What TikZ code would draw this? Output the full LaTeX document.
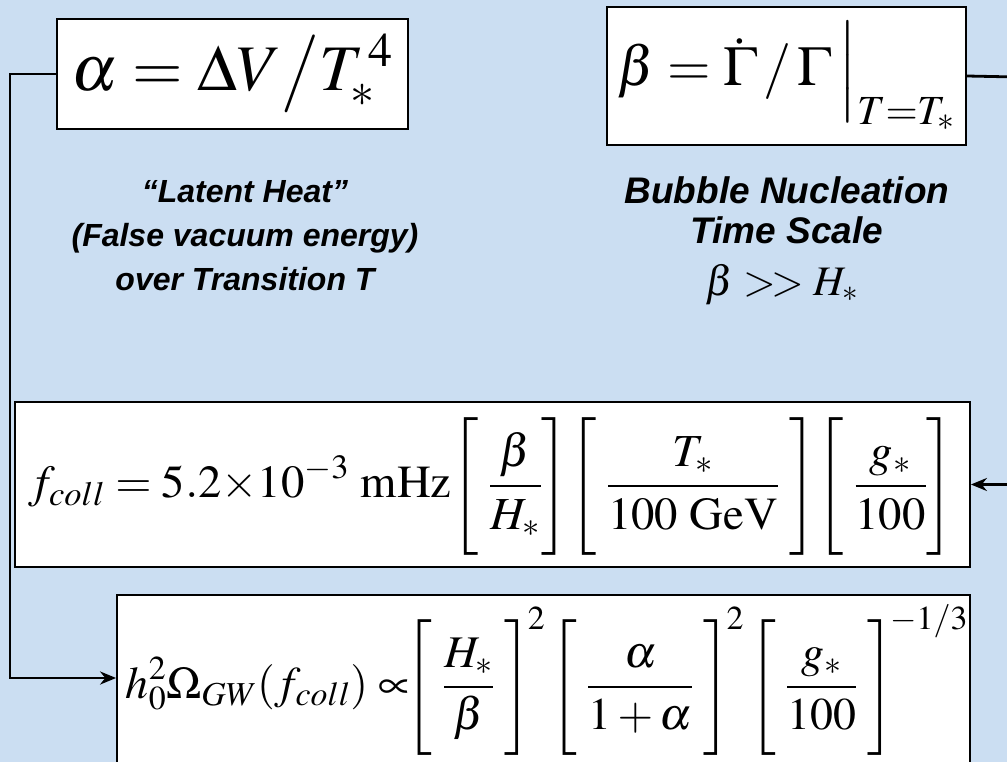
\documentclass[tikz,border=0pt]{standalone}
\usepackage{mathptmx}
\usepackage{graphicx}
\usepackage{fontspec}
\setmainfont{Liberation Serif}
\setsansfont{Liberation Sans}
\usetikzlibrary{arrows.meta}
\definecolor{slidebg}{RGB}{203,222,242}
\newcommand{\tallstrut}{\vphantom{\rule[-1.2em]{0pt}{3.0em}}}

\begin{document}
\begin{tikzpicture}[x=1pt,y=-1pt,>={Stealth[length=16pt,width=13pt]},
    eqbox/.style={draw,line width=1.8pt,fill=white,inner sep=0pt},
    caption/.style 2 args={font=\fontsize{#1}{#2}\selectfont\sffamily\bfseries\itshape,align=center},
    feed/.style={->,line width=2.8pt}]
        \useasboundingbox (0,0) rectangle (1007,762);
        \fill[slidebg] (0,0) rectangle (1007,762);
        % parameter boxes
        \node[eqbox,minimum width=351,minimum height=110] (alpha) at (232.5,74)
          {\fontsize{65}{72}\selectfont$\alpha = \Delta V\big/T_*^{\,4}$};
        \node[eqbox,minimum width=359,minimum height=138] (beta) at (786.5,76)
          {\fontsize{56}{64}\selectfont$\beta = \dot{\Gamma}\,/\,\Gamma\left.\rule[-0.5em]{0pt}{1.25em}\right|_{T=T_*}$};
        \node[caption={32}{44}] (latent) at (245,236)
          {``Latent Heat''\\(False vacuum energy)\\over Transition T};
        \node[caption={37}{40}] (nucl) at (787,210) {Bubble Nucleation\\Time Scale};
        \node[anchor=base] (hubble) at (782,295) {\fontsize{42}{46}\selectfont$\beta \mathrel{>\!>} H_*$};
        % result boxes
        \node[eqbox,minimum width=955,minimum height=165] (fcoll) at (492.5,484.5) {};
        \node (fcolleq) at (491,485)
          {\resizebox*{926pt}{140pt}{\fontsize{44}{50}\selectfont$\displaystyle f_{coll} = 5.2{\times}10^{-3}\ \mathrm{mHz}\!
           \left[\;\frac{\beta}{H_*}\tallstrut\right]\!\left[\;\frac{T_*}{100\ \mathrm{GeV}}\;\tallstrut\right]\!\left[\;\frac{g_*}{100}\tallstrut\right]$}};
        \node[eqbox,minimum width=853,minimum height=200] (omega) at (543.5,695) {};
        \node (omegaeq) at (547,680)
          {\resizebox*{842pt}{150pt}{\fontsize{44}{50}\selectfont$\displaystyle h_0^2\Omega_{GW}(f_{coll}) \mathrel{\propto}\!\!\!
           \left[\;\frac{H_*}{\beta}\;\tallstrut\right]^{\!2} \left[\;\frac{\alpha}{1+\alpha}\;\tallstrut\right]^{\!2} \left[\;\frac{g_*}{100}\;\tallstrut\right]^{\!-1/3}$}};
        % feeds into the results
        \coordinate (lfeed) at (10,678);
        \coordinate (rfeed) at (1016,77);
        \draw[feed] (alpha.west) -| (lfeed) -- (omega.west |- lfeed);
        \draw[feed] (beta.east) -- (rfeed) |- (fcoll.east);
\end{tikzpicture}
\end{document}
